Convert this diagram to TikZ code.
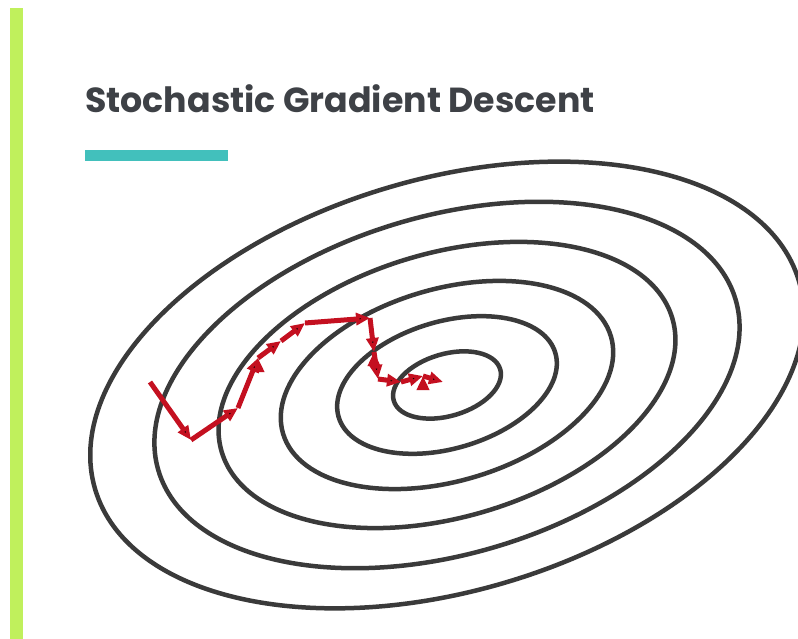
\documentclass[tikz,border=0pt]{standalone}
\usepackage{fontspec}
\usepackage{tikz}
\usetikzlibrary{arrows.meta}
\newfontfamily\headfont{Poppins}
\definecolor{limebar}{RGB}{192,240,92}
\definecolor{tealbar}{RGB}{66,192,188}
\definecolor{headgray}{RGB}{62,65,70}
\definecolor{ringgray}{RGB}{58,58,58}
\definecolor{sgdred}{RGB}{196,16,32}

\begin{document}
\begin{tikzpicture}[x=1pt,y=-1pt,
  ring/.style={draw=ringgray,line width=4.5pt},
  sgd/.style={draw=sgdred,line width=5pt,-{Triangle[length=14pt,width=12pt]}}]
 \fill[white] (0,0) rectangle (798,639);
 \useasboundingbox (0,0) rectangle (798,639);
 \fill[limebar] (10,8) rectangle (23,639);
 \fill[tealbar] (85,150) rectangle (228,161);
 \node[anchor=base west,inner sep=0,text=headgray,font=\headfont\bfseries\fontsize{34.8}{40}\selectfont] (T) at (85,113) {Stochastic Gradient Descent};

 \coordinate (C) at (447,385);
 \begin{scope}[rotate around={16.5:(C)}]
 \draw[ring] (C) ellipse [x radius=367pt,y radius=206pt];
 \draw[ring] (C) ellipse [x radius=301pt,y radius=169pt];
 \draw[ring] (C) ellipse [x radius=235pt,y radius=132pt];
 \draw[ring] (C) ellipse [x radius=171pt,y radius=96pt];
 \draw[ring] (C) ellipse [x radius=113pt,y radius=63.5pt];
 \draw[ring] (C) ellipse [x radius=55.5pt,y radius=31pt];
 \end{scope}

 \coordinate (P0) at (150,382);
 \coordinate (P1) at (191,440);
 \coordinate (P2) at (238,408);
 \coordinate (P3) at (258,358);
 \coordinate (P4) at (281,341);
 \coordinate (P5) at (305,323);
 \coordinate (P6) at (370,318);
 \coordinate (P7) at (374,352);
 \coordinate (P8) at (378,379);
 \coordinate (P9) at (401,382);
 \coordinate (P10) at (423,376);
 \coordinate (P11) at (443,382);

 \path[sgd] (P0) edge (P1) (P1) edge (P2) (P2) edge (P3) (P3) edge (P4);
 \path[sgd] (P4) edge (P5) (P5) edge (P6) (P6) edge (P7) (P7) edge (P8);
 \path[sgd] (P8) edge (P9) (P9) edge (P10) (P10) edge (P11);
\end{tikzpicture}
\end{document}
